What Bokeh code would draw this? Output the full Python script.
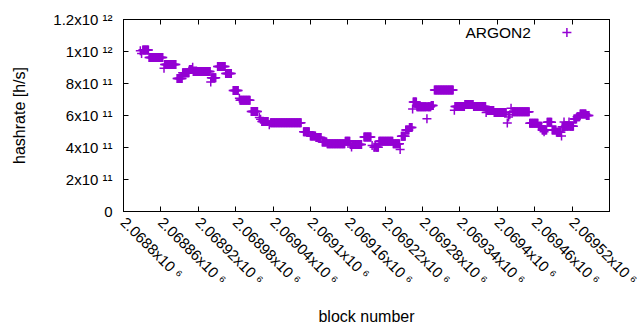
import math
import numpy as np
from bokeh.plotting import figure
from bokeh.models import Range1d, FixedTicker, LinearAxis, Label, CustomJSTickFormatter
from bokeh.embed import file_html
from bokeh.resources import INLINE

# ---- data (runs of blocks with a constant hashrate) ----
run_first_block = [
    2068827, 2068829, 2068831, 2068841, 2068865, 2068866, 2068886, 2068895, 2068906, 2068911,
    2068912, 2068940, 2068941, 2068951, 2068964, 2068976, 2068986, 2068987, 2069005, 2069018,
    2069020, 2069022, 2069034, 2069036, 2069089, 2069100, 2069109, 2069119, 2069127, 2069156,
    2069164, 2069166, 2069167, 2069186, 2069199, 2069202, 2069204, 2069205, 2069210, 2069233,
    2069244, 2069246, 2069253, 2069259, 2069264, 2069265, 2069271, 2069287, 2069288, 2069294,
    2069299, 2069331, 2069332, 2069348, 2069362, 2069382, 2069383, 2069395, 2069416, 2069418,
    2069420, 2069422, 2069424, 2069452, 2069466, 2069472, 2069475, 2069476, 2069480, 2069488,
    2069495, 2069503, 2069504, 2069507, 2069508, 2069509, 2069515, 2069516, 2069523, 2069528,
    2069533, 2069543,
]
run_last_block = [
    2068827, 2068829, 2068840, 2068863, 2068865, 2068884, 2068894, 2068905, 2068910, 2068911,
    2068939, 2068940, 2068948, 2068963, 2068973, 2068984, 2068986, 2069003, 2069015, 2069018,
    2069020, 2069032, 2069034, 2069085, 2069098, 2069108, 2069117, 2069126, 2069155, 2069163,
    2069165, 2069166, 2069182, 2069197, 2069199, 2069203, 2069204, 2069209, 2069232, 2069243,
    2069244, 2069252, 2069258, 2069263, 2069264, 2069270, 2069286, 2069287, 2069293, 2069297,
    2069329, 2069331, 2069347, 2069361, 2069381, 2069382, 2069394, 2069414, 2069416, 2069418,
    2069420, 2069422, 2069451, 2069465, 2069471, 2069474, 2069475, 2069479, 2069487, 2069494,
    2069502, 2069503, 2069506, 2069507, 2069508, 2069514, 2069515, 2069522, 2069527, 2069532,
    2069542, 2069547,
]
run_hashrate = [  # h/s
    10.05e11, 9.88e11, 10.10e11, 9.63e11, 8.96e11, 9.19e11, 8.31e11, 8.67e11, 8.88e11, 9.02e11,
    8.75e11, 8.10e11, 8.36e11, 9.07e11, 8.63e11, 7.56e11, 7.08e11, 6.95e11, 6.25e11, 5.88e11,
    5.76e11, 5.62e11, 5.42e11, 5.55e11, 4.99e11, 4.72e11, 4.62e11, 4.34e11, 4.24e11, 4.39e11,
    4.18e11, 4.03e11, 4.18e11, 4.66e11, 4.12e11, 4.01e11, 4.13e11, 4.01e11, 4.39e11, 4.24e11,
    3.87e11, 4.70e11, 5.10e11, 5.25e11, 6.40e11, 6.85e11, 6.54e11, 5.80e11, 6.54e11, 6.62e11,
    7.60e11, 6.33e11, 6.56e11, 6.68e11, 6.56e11, 6.18e11, 6.31e11, 6.19e11, 5.53e11, 5.90e11,
    6.05e11, 6.45e11, 6.24e11, 5.51e11, 5.33e11, 5.10e11, 4.98e11, 5.10e11, 5.58e11, 5.10e11,
    4.95e11, 4.72e11, 5.30e11, 5.60e11, 5.30e11, 5.33e11, 5.60e11, 5.33e11, 5.78e11, 5.92e11,
    6.10e11, 6.00e11,
]

x_ticks = [2068800, 2068860, 2068920, 2068980, 2069040, 2069100, 2069160,
           2069220, 2069280, 2069340, 2069400, 2069460, 2069520, 2069580]
x_tick_mantissa = ["2.0688x10", "2.06886x10", "2.06892x10", "2.06898x10", "2.06904x10",
                   "2.0691x10", "2.06916x10", "2.06922x10", "2.06928x10", "2.06934x10",
                   "2.0694x10", "2.06946x10", "2.06952x10", "2.06958x10"]
x_tick_exponent = "6"
y_ticks = [0, 200000000000, 400000000000, 600000000000, 800000000000,
           1000000000000, 1200000000000]
y_tick_mantissa = ["0", "2x10", "4x10", "6x10", "8x10", "1x10", "1.2x10"]
y_tick_exponent = ["", "11", "11", "11", "11", "12", "12"]

series_name = "ARGON2"
x_title = "block number"
y_title = "hashrate [h/s]"

X0, X1 = 2068800, 2069580
Y0, Y1 = 0, 1.2e12

blocks = np.concatenate([np.arange(a, b + 1) for a, b in zip(run_first_block, run_last_block)])
rates = np.concatenate([np.full(b - a + 1, v) for a, b, v in zip(run_first_block, run_last_block, run_hashrate)])

SUP = str.maketrans("0123456789", "\u2070\u00b9\u00b2\u00b3\u2074\u2075\u2076\u2077\u2078\u2079")


def tick_text(mant, exp):
    return mant if not exp else mant + " " + exp.translate(SUP)


# ---- figure ----
FW, FH = 486, 192
COLOR = "#9400D3"
FONT = "Liberation Sans"
FS_TICK = "15px"
FS_TITLE = "16px"
FS_LEG = "15.5px"

p = figure(frame_width=FW, frame_height=FH,
           x_range=Range1d(X0, X1), y_range=Range1d(Y0, Y1),
           output_backend="svg", toolbar_location=None,
           min_border_left=123, min_border_right=31, min_border_top=19, min_border_bottom=119)
p.xgrid.visible = False
p.ygrid.visible = False
p.outline_line_color = "black"
p.outline_line_alpha = 1.0
p.outline_line_width = 1
p.background_fill_color = "white"
p.border_fill_color = "white"

p.add_layout(LinearAxis(), "above")
p.add_layout(LinearAxis(), "right")
blank = CustomJSTickFormatter(code="return ''")
for ax in p.xaxis:
    ax.ticker = FixedTicker(ticks=x_ticks)
for ax in p.yaxis:
    ax.ticker = FixedTicker(ticks=y_ticks)
for ax in list(p.xaxis) + list(p.yaxis):
    ax.major_tick_in = 5
    ax.major_tick_out = 0
    ax.minor_tick_line_color = None
    ax.axis_line_color = "black"
    ax.major_tick_line_color = "black"
    ax.major_label_text_font = FONT
    ax.major_label_text_font_size = FS_TICK
    ax.major_label_text_color = "black"
    ax.axis_label_text_font = FONT
    ax.axis_label_text_font_size = FS_TITLE
    ax.axis_label_text_font_style = "normal"
    ax.axis_label_text_color = "black"

# hidden labels on the mirrored axes
for ax in (p.above[0], p.right[0]):
    ax.formatter = blank
    ax.major_label_text_font_size = "1px"
    ax.major_label_standoff = 0

# the label of the last x tick runs past the window edge in the reference; Bokeh would
# push it back over its neighbour, so it is left blank here
x_labels = {t: tick_text(m, x_tick_exponent) for t, m in zip(x_ticks, x_tick_mantissa)}
x_labels[x_ticks[-1]] = ""

xb = p.below[0]
xb.major_label_overrides = x_labels
xb.major_label_orientation = -math.pi / 4
xb.major_label_standoff = 8
xb.axis_label = x_title
xb.axis_label_standoff = 11

yl = p.left[0]
yl.major_label_overrides = {t: tick_text(m, e) for t, m, e in zip(y_ticks, y_tick_mantissa, y_tick_exponent)}
yl.major_label_standoff = 11
yl.axis_label = y_title
yl.axis_label_standoff = 22

p.scatter(blocks, rates, marker="cross", size=9, line_color=COLOR, line_width=1.5)

# ---- legend (gnuplot style: text, then sample) ----
p.add_layout(Label(x=X1, y=Y1, x_offset=-78.6, y_offset=-12.7, text=series_name,
                   text_align="right", text_baseline="middle",
                   text_font=FONT, text_font_size=FS_LEG, text_color="black"))
key_x = X1 - 42.6 * (X1 - X0) / FW
key_y = Y1 - 13.0 * (Y1 - Y0) / FH
p.scatter([key_x], [key_y], marker="cross", size=9, line_color=COLOR, line_width=1.5)

open("out.html", "w").write(file_html(p, INLINE))
